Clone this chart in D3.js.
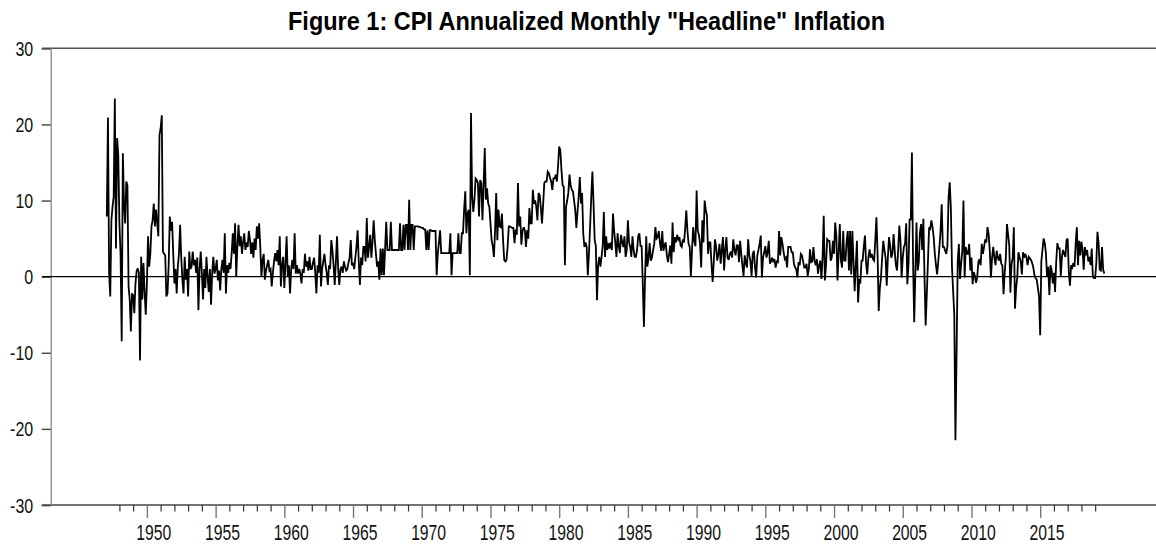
<!DOCTYPE html>
<html><head><meta charset="utf-8">
<script src="https://cdn.jsdelivr.net/npm/d3@7"></script>
<style>body{margin:0;background:#fff}svg{display:block}</style>
</head><body>
<svg id="chart" width="1156" height="545"></svg>
<script>
// ---- DATA (annualized monthly CPI inflation, %), first value = Feb 1947 ----
const startYear = 1947, startMonth = 1; // 0-based month index (1 = Feb)
const cpi1940s = [
  7.9, 20.9, 0.5, -2.6, 7.4, 9.2, 10.5, 23.4, 3.7, 18.2, 16.0,
  7.0, 3.0, -8.5, 16.2, 9.6, 7.0, 12.5, 12.0, -1.3, -3.0, -7.2, -2.2,
  -2.5, -4.8, -1.0, 0.7, 1.1, 0.5, -11.0, 2.6, -3.0, 1.8, -2.0, -5.0
];
const cpi1950s = [
  -1.0, 5.3, 1.3, 3.0, 6.6, 7.4, 9.6, 6.6, 8.8, 7.0, 5.3, 18.6,
  19.5, 21.2, 3.3, 3.0, 2.8, -2.6, -2.2, 1.5, 7.9, 6.0, 7.2, 3.0,
  -0.9, 1.0, -2.2, 1.3, 3.0, 6.8, 2.5, -0.4, -2.2, 2.6, -0.4, 1.0,
  -2.6, 3.3, 1.0, 1.3, 3.3, 1.5, 2.2, 0.5, 2.5, -4.4, 1.0, 3.3,
  0.5, -3.0, 1.0, -1.5, 2.6, 0.0, -2.0, 1.0, -3.7, 0.5, 2.6, 0.4,
  1.0, 2.2, -0.5, 0.8, -1.8, 1.0, 2.2, 0.5, 5.7, -2.2, 1.5, 0.5,
  1.8, 1.0, 3.0, 5.7, 3.0, 7.0, 0.0, 4.0, 6.8, 4.0, 5.3, 3.0,
  4.5, 5.7, 3.5, 4.5, 3.9, 6.0, 4.8, 3.0, 4.5, 2.5, 5.0, 3.5,
  6.6, 5.0, 7.0, 3.9, 0.0, 2.2, 3.0, -0.4, 0.8, 1.5, 2.2, 0.8,
  1.0, -1.3, 0.5, 2.0, 3.1, 2.0, 3.5, 1.5, 5.3, -1.3, 1.5, 2.6
];
const cpi1960s = [
  -1.5, 1.8, 5.3, 0.0, 1.5, -2.2, 1.0, 2.2, 1.0, 5.7, 0.4, 1.5,
  0.4, 1.0, 0.4, -0.9, 1.0, 0.5, 3.0, 1.3, 2.0, 0.8, 2.6, 1.0,
  1.0, 1.8, 2.5, 0.5, -2.2, 1.5, 0.5, 5.5, -1.3, 1.0, 2.0, 3.0,
  1.5, 0.5, -1.1, 1.5, 1.0, 4.8, 3.5, 1.5, -1.1, 2.0, 5.3, 1.0,
  -1.1, 1.0, 1.3, 0.5, 2.0, 1.3, 0.8, 1.0, 1.8, 2.5, 4.8, 1.5,
  1.8, 1.0, 2.5, 3.9, 6.1, 2.0, -1.1, 2.5, 1.5, 3.9, 3.9, 2.0,
  7.7, 2.5, 3.9, 5.5, 2.5, 4.6, 7.4, 4.8, 3.0, 1.3, 2.0, -0.4,
  3.7, 0.2, 3.7, 0.2, 3.7, 7.2, 3.5, 3.5, 3.5, 7.2, 3.5, 3.5,
  3.5, 3.5, 3.5, 3.5, 3.5, 7.0, 3.5, 3.5, 6.8, 3.5, 6.8, 6.8,
  3.5, 10.1, 3.5, 6.8, 6.8, 3.5, 6.6, 6.6, 6.6, 6.6, 6.5, 6.5
];
const cpi1970s = [
  6.4, 6.4, 6.2, 6.2, 3.5, 6.1, 3.5, 6.1, 6.1, 6.0, 6.0, 6.0,
  6.0, 0.2, 3.0, 4.5, 6.1, 3.1, 3.1, 3.1, 3.1, 3.1, 3.1, 3.1,
  3.1, 5.7, 0.2, 3.1, 3.1, 3.1, 3.1, 3.1, 5.7, 3.1, 3.1, 5.7,
  5.7, 8.8, 11.2, 5.7, 8.3, 8.8, 0.2, 21.5, 10.5, 8.5, 10.1, 12.9,
  12.7, 12.3, 7.9, 12.7, 12.3, 7.4, 12.0, 16.9, 10.1, 11.6, 9.6, 9.2,
  7.0, 4.8, 4.0, 2.6, 6.0, 11.0, 4.8, 8.8, 6.6, 6.5, 8.3, 4.8,
  2.2, 2.0, 2.2, 4.0, 6.6, 6.6, 6.5, 6.4, 6.4, 4.4, 6.2, 5.5,
  12.3, 6.6, 7.9, 4.2, 6.0, 6.5, 6.1, 3.9, 6.1, 5.0, 9.0, 7.0,
  7.0, 11.4, 9.6, 10.0, 9.2, 7.4, 11.0, 10.7, 9.0, 7.0, 9.5, 12.3,
  12.5, 12.5, 13.8, 13.6, 13.0, 12.5, 11.4, 12.9, 12.9, 13.4, 12.5, 14.5
];
const cpi1980s = [
  17.1, 16.6, 14.0, 12.0, 11.8, 1.5, 9.2, 10.0, 11.0, 13.4, 12.0, 11.4,
  11.2, 10.0, 8.8, 6.4, 8.5, 10.5, 13.1, 9.6, 11.0, 5.7, 3.9, 4.5,
  3.9, 0.2, 3.0, 6.6, 10.5, 13.8, 9.6, 4.8, 4.0, -3.1, 1.5, 2.6,
  1.3, 2.6, 4.0, 8.5, 2.6, 5.3, 3.5, 4.4, 3.7, 4.5, 3.5, 8.3,
  6.0, 4.4, 2.6, 5.7, 4.0, 3.1, 5.5, 4.5, 3.9, 5.3, 2.6, 3.5,
  7.4, 4.5, 3.9, 2.6, 5.3, 3.5, 2.6, 2.6, 3.5, 5.3, 5.7, 4.0,
  4.0, -1.0, -6.6, 0.0, 5.3, 1.3, 2.5, 4.4, 2.1, 2.5, 3.5, 4.3,
  6.5, 5.0, 5.2, 6.0, 4.4, 3.4, 6.0, 3.4, 4.1, 4.5, 2.8, 1.9,
  3.0, 4.1, 1.7, 7.1, 3.2, 5.2, 4.5, 5.5, 4.9, 5.2, 4.1, 3.9,
  4.9, 4.5, 6.3, 8.7, 6.0, 4.3, 3.9, 0.0, 3.5, 6.5, 4.7, 4.0
];
const cpi1990s = [
  11.3, 6.0, 5.5, 4.3, 1.2, 7.4, 4.5, 10.0, 8.8, 8.0, 3.0, 4.5,
  4.5, 1.7, -0.7, 2.0, 4.9, 3.9, 2.1, 3.0, 4.3, 1.7, 3.5, 5.2,
  0.8, 3.5, 5.2, 2.5, 2.2, 3.0, 3.3, 2.5, 4.9, 3.5, 2.8, 4.1,
  4.1, 1.9, 4.7, 3.0, 1.4, 0.1, 2.8, 1.8, 1.2, 4.9, 2.8, 2.0,
  0.1, 3.0, 3.4, 1.2, -0.1, 2.8, 3.5, 4.3, 5.4, -0.1, 2.5, 3.2,
  4.0, 2.5, 3.2, 4.7, 1.7, 2.0, 2.5, 1.9, 2.3, 1.2, 2.0, 1.9,
  6.0, 2.8, 5.2, 4.3, 3.2, 2.3, 2.5, 1.2, 3.9, 3.9, 3.9, 3.2,
  3.2, 1.7, 1.2, 1.0, -0.1, 1.9, 1.5, 3.0, 2.8, 2.0, 1.2, 1.2,
  1.7, 0.1, 1.0, 3.6, 1.9, 2.0, 3.9, 2.1, 1.5, 2.3, 0.4, 1.5,
  2.1, -0.3, 2.5, 8.0, -0.5, 1.5, 4.9, 4.7, 4.7, 2.1, 2.5, 4.7
];
const cpi2000s = [
  3.0, 7.1, 5.5, -0.5, 3.0, 6.9, 2.1, 1.2, 6.0, 2.1, 2.1, 4.7,
  6.0, 0.8, 6.0, 0.3, 6.0, 2.0, -1.9, 1.5, 4.7, -3.4, -0.5, -0.7,
  2.1, 2.1, 4.0, 5.4, 1.7, 0.3, 2.5, 3.6, 2.5, 3.0, 2.3, 2.1,
  4.7, 7.8, 3.0, -4.5, -1.5, -0.1, 2.5, 4.7, 3.5, 2.5, -1.2, 2.5,
  5.2, 4.0, 2.5, 3.0, 5.6, 3.4, 1.5, 0.8, 3.5, 6.7, 4.7, -0.1,
  2.5, 3.9, 4.3, 7.0, -1.0, 1.5, 7.6, 7.4, 16.3, 2.0, -6.0, 0.5,
  7.1, 0.8, 1.9, 5.8, 6.9, 3.5, 7.6, -0.1, -6.4, -2.3, 2.0, 6.5,
  6.3, 7.4, 6.5, 5.2, 3.0, 1.5, 0.3, 2.0, 3.9, 6.0, 9.5, 3.9,
  3.9, 3.4, 3.0, 4.0, 10.4, 12.4, 9.0, 1.2, -1.9, -5.0, -21.5, -10.0,
  2.0, 4.3, -0.3, 1.7, 3.4, 10.0, -0.1, 3.9, 3.0, 3.0, 4.3, 0.8
];
const cpi2010s = [
  2.5, -1.0, 0.6, 0.1, -0.8, -0.1, 1.9, 2.3, 1.5, 4.3, 3.0, 3.9,
  4.9, 4.5, 6.5, 5.6, 3.4, -0.1, 2.5, 3.9, 2.5, 1.5, 3.4, 2.5,
  2.1, 3.0, 1.7, 1.5, -2.3, 0.5, 2.5, 6.9, 5.5, 4.1, -2.1, 1.7,
  2.5, 6.5, -4.2, -1.5, -0.1, 3.2, 2.5, 2.0, 0.3, 3.2, 2.5, 3.0,
  2.5, 1.5, 2.6, 2.4, 2.2, 1.8, 1.2, 0.2, -0.2, -0.4, -1.5, -2.6,
  -7.7, 2.0, 3.5, 5.0, 4.4, 3.1, 0.0, 1.3, -2.4, 1.5, 0.9, -0.9,
  0.5, -2.0, 2.0, 4.4, 3.7, 3.7, 0.1, 2.6, 3.5, 3.0, 2.6, 4.8,
  5.0, 0.6, -1.2, 1.5, 1.2, 1.8, 1.3, 4.4, 6.5, 1.5, 4.7, 2.8,
  4.6, 3.5, 0.9, 3.9, 2.8, 3.5, 2.0, 2.6, 1.5, 3.7, 0.0, -0.2,
  -0.2, 1.8, 5.9, 4.4, 0.9, 0.8, 3.9, 0.9, 0.4
];
const yTickValues = [-30, -20, -10, 0, 10, 20, 30];
const xTickYears = d3.range(1948, 2020);
const xLabelYears = [1950, 1955, 1960, 1965, 1970, 1975, 1980, 1985, 1990, 1995, 2000, 2005, 2010, 2015];
const titleText = 'Figure 1: CPI Annualized Monthly "Headline" Inflation';

// ---- BUILD ----
const series = [].concat(cpi1940s, cpi1950s, cpi1960s, cpi1970s, cpi1980s, cpi1990s, cpi2000s, cpi2010s);
const data = series.map((v, i) => ({ t: startYear + (startMonth + i) / 12, v }));

const svg = d3.select("#chart");
const x = d3.scaleLinear().domain([1943, 2023.5]).range([50.7, 1157]);
const y = d3.scaleLinear().domain([-30, 30]).range([505, 48.3]);
const FONT = '"Liberation Sans",Arial,sans-serif';
const NARROW = 0.82; // horizontal compression to mimic Arial Narrow

// title
svg.append("text")
  .attr("x", 586.5).attr("y", 30)
  .attr("text-anchor", "middle")
  .attr("font-family", FONT).attr("font-weight", "bold").attr("font-size", 26)
  .attr("textLength", 597).attr("lengthAdjust", "spacingAndGlyphs")
  .attr("fill", "#000")
  .text(titleText);

// horizontal reference lines (top, bottom)
svg.append("line").attr("x1", 42).attr("x2", 1156).attr("y1", y(30)).attr("y2", y(30))
  .attr("stroke", "#555").attr("stroke-width", 1.4);
svg.append("line").attr("x1", 42).attr("x2", 1156).attr("y1", y(-30)).attr("y2", y(-30))
  .attr("stroke", "#444").attr("stroke-width", 1.5);

// left axis
const yAxis = svg.append("g").attr("transform", `translate(${x(1943)},0)`)
  .call(d3.axisLeft(y).tickValues(yTickValues).tickSize(9).tickFormat(d => String(d)));
yAxis.select(".domain").attr("stroke", "#888").attr("stroke-width", 1.3);
yAxis.selectAll(".tick line").attr("stroke", "#444").attr("stroke-width", 1.4);
yAxis.selectAll(".tick text")
  .attr("x", -17.5 / NARROW).attr("dy", "0.36em")
  .attr("transform", `scale(${NARROW},1)`)
  .attr("font-family", FONT).attr("font-size", 19.5).attr("fill", "#111");

// x axis minor ticks
const xMinor = svg.append("g").attr("transform", `translate(0,${y(-30)})`)
  .call(d3.axisBottom(x).tickValues(xTickYears.filter(yr => yr % 5 !== 0)).tickSize(6.5).tickFormat(""));
xMinor.select(".domain").remove();
xMinor.selectAll(".tick line").attr("stroke", "#333").attr("stroke-width", 1.2);
// x axis major ticks
const xMajor = svg.append("g").attr("transform", `translate(0,${y(-30)})`)
  .call(d3.axisBottom(x).tickValues(xTickYears.filter(yr => yr % 5 === 0)).tickSize(13).tickFormat(""));
xMajor.select(".domain").remove();
xMajor.selectAll(".tick line").attr("stroke", "#777").attr("stroke-width", 1.4);
// x labels (centred in the year interval)
svg.append("g").selectAll("text").data(xLabelYears).join("text")
  .attr("x", d => x(d + 0.5)).attr("y", 539.5)
  .attr("text-anchor", "middle")
  .attr("font-family", FONT).attr("font-size", 21.5)
  .attr("textLength", 35).attr("lengthAdjust", "spacingAndGlyphs")
  .attr("fill", "#111")
  .text(d => d);

// zero line
svg.append("line").attr("x1", 42).attr("x2", 1156).attr("y1", y(0)).attr("y2", y(0))
  .attr("stroke", "#000").attr("stroke-width", 1.3);

// data line
svg.append("path").datum(data)
  .attr("fill", "none").attr("stroke", "#000").attr("stroke-width", 1.8)
  .attr("stroke-linejoin", "miter").attr("stroke-miterlimit", 3)
  .attr("d", d3.line().x(d => x(d.t)).y(d => y(d.v)));
</script>
</body></html>
